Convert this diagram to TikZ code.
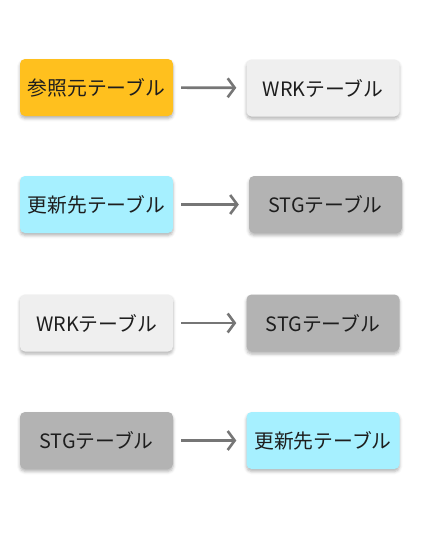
\documentclass[tikz,border=0pt]{standalone}
\usepackage{fontspec}
\setmainfont{Noto Sans CJK JP}
\usetikzlibrary{arrows.meta,shadows.blur}
\definecolor{cOrange}{HTML}{FFC01E}
\definecolor{cLight}{HTML}{EFEFEF}
\definecolor{cCyan}{HTML}{A6F0FF}
\definecolor{cGray}{HTML}{B3B3B3}
\definecolor{cText}{HTML}{1E1E1E}
\definecolor{cArrow}{HTML}{767676}
\tikzset{
  tbl/.style={rounded corners=5pt, minimum width=153pt, minimum height=57pt,
    inner sep=0pt, text=cText, font=\fontsize{19.8pt}{21pt}\selectfont,
    blur shadow={shadow xshift=0pt, shadow yshift=-2.5pt, shadow blur radius=3pt, shadow opacity=30}},
  flow/.style={draw=cArrow, line width=2.6pt,
    -{Straight Barb[length=7pt,width=19pt]}, shorten <=8pt, shorten >=10pt}
}
\begin{document}
\begin{tikzpicture}[x=1pt,y=-1pt]
\useasboundingbox (0,0) rectangle (423,546);
\node[tbl, fill=cOrange] (a1) at (96.5,87.5) {参照元テーブル};
\node[tbl, fill=cLight]  (b1) at (323,88) {WRKテーブル};
\node[tbl, fill=cCyan]   (a2) at (96.5,204.5) {更新先テーブル};
\node[tbl, fill=cGray]   (b2) at (325.5,204.5) {STGテーブル};
\node[tbl, fill=cLight]  (a3) at (96.5,323) {WRKテーブル};
\node[tbl, fill=cGray]   (b3) at (323,323) {STGテーブル};
\node[tbl, fill=cGray]   (a4) at (96.5,440.5) {STGテーブル};
\node[tbl, fill=cCyan]   (b4) at (323,440.5) {更新先テーブル};
\draw[flow] (a1) -- (b1);
\draw[flow] (a2) -- (b2);
\draw[flow] (a3) -- (b3);
\draw[flow] (a4) -- (b4);
\end{tikzpicture}
\end{document}
